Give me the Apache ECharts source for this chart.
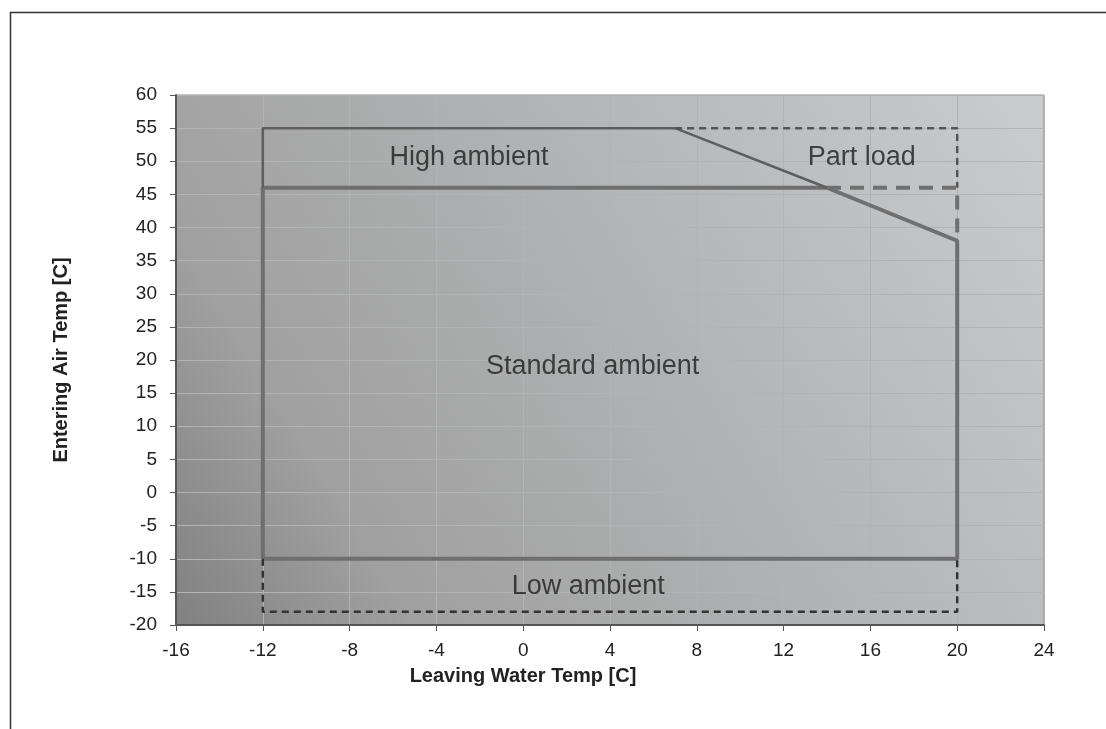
<!DOCTYPE html>
<html><head><meta charset="utf-8">
<script src="https://cdn.jsdelivr.net/npm/echarts@6/dist/echarts.min.js"></script>
<style>html,body{margin:0;padding:0;background:#fff}#c{width:1106px;height:729px}</style>
</head><body><div id="c"></div>
<script>
// Operating envelope polylines [leaving water temp, entering air temp]
const highAmbient = [[-12,46],[-12,55],[7,55],[14,46]];
const standardAmbient = [[-12,-10],[-12,46],[14,46],[20,38],[20,-10],[-12,-10]];
const partLoadOuter = [[7,55],[20,55],[20,46]];
const partLoadInner = [[14,46],[20,46],[20,38]];
const lowAmbient = [[-12,-10],[-12,-18],[20,-18],[20,-10]];
const regionLabels = [
  {name:'High ambient', value:[-2.5,50.5]},
  {name:'Part load', value:[15.6,50.5]},
  {name:'Standard ambient', value:[3.2,19]},
  {name:'Low ambient', value:[3.0,-14.2]}
];
const xTicks = {min:-16, max:24, interval:4};
const yTicks = {min:-20, max:60, interval:5};

const chart = echarts.init(document.getElementById('c'));
const F = 'Liberation Sans, Arial, sans-serif';
chart.setOption({
  animation:false,
  backgroundColor:'#fff',
  graphic:[{type:'rect', left:8, top:10, shape:{width:1200,height:800}, style:{fill:'none', stroke:'#333', lineWidth:1.5}, silent:true}],
  grid:{left:176, top:95, right:62, bottom:104, show:true, borderColor:'#8c8c8c', borderWidth:1,
    backgroundColor:new echarts.graphic.LinearGradient(0,1,1,0,[{offset:0,color:'#818181'},{offset:0.2,color:'#a0a0a0'},{offset:0.5,color:'#afb0b1'},{offset:1,color:'#cbcccd'}])},
  xAxis:{type:'value', min:xTicks.min, max:xTicks.max, interval:xTicks.interval,
    name:'Leaving Water Temp [C]', nameLocation:'middle', nameGap:41,
    nameTextStyle:{fontFamily:F, fontWeight:'bold', fontSize:20, color:'#222', padding:[0,174,0,0]},
    axisLine:{show:true, onZero:false, lineStyle:{color:'#555', width:2}},
    axisTick:{show:true, length:6, lineStyle:{color:'#555'}},
    axisLabel:{fontFamily:F, fontSize:19, color:'#222', margin:16},
    splitLine:{show:true, lineStyle:{color:'#b2b3b4', width:1}}},
  yAxis:{type:'value', min:yTicks.min, max:yTicks.max, interval:yTicks.interval,
    name:'Entering Air Temp [C]', nameLocation:'middle', nameGap:105,
    nameTextStyle:{fontFamily:F, fontWeight:'bold', fontSize:20, color:'#222'},
    axisLine:{show:true, onZero:false, lineStyle:{color:'#555', width:2}},
    axisTick:{show:true, length:6, lineStyle:{color:'#555'}},
    axisLabel:{fontFamily:F, fontSize:19, color:'#222', margin:19},
    splitLine:{show:true, lineStyle:{color:'#b2b3b4', width:1}}},
  series:[
    {type:'line', data:standardAmbient, symbol:'none', lineStyle:{color:'#6f6f6f', width:4}, z:3},
    {type:'line', data:highAmbient, symbol:'none', lineStyle:{color:'#5e5e5e', width:2.5}, z:4},
    {type:'line', data:partLoadOuter, symbol:'none', lineStyle:{color:'#555', width:2.5, type:[7,5]}, z:4},
    {type:'line', data:partLoadInner, symbol:'none', lineStyle:{color:'#6f6f6f', width:4, type:[14,9]}, z:3},
    {type:'line', data:lowAmbient, symbol:'none', lineStyle:{color:'#333', width:2.5, type:[7,5]}, z:4},
    {type:'scatter', data:regionLabels, symbolSize:0, silent:true, z:5,
      label:{show:true, position:'inside', formatter:p=>p.name, fontFamily:F, fontSize:27, color:'#1e1e1e'}}
  ]
});
</script></body></html>
